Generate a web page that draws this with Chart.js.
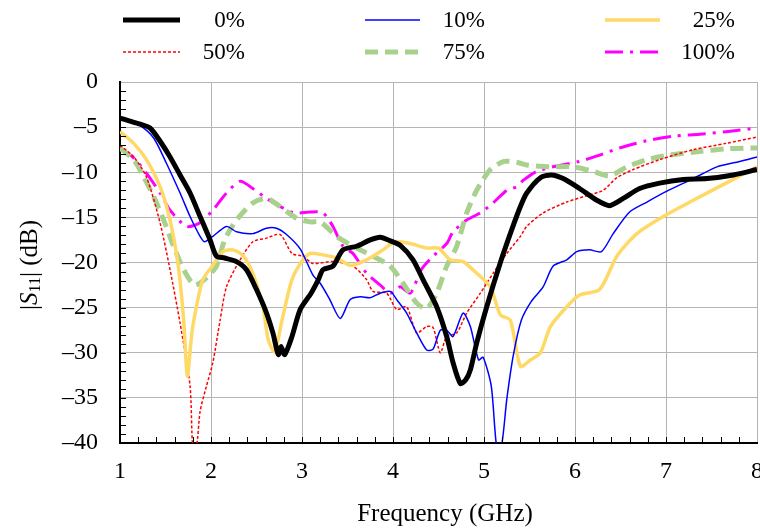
<!DOCTYPE html>
<html>
<head>
<meta charset="utf-8">
<script src="https://cdn.jsdelivr.net/npm/chart.js@4.4.0/dist/chart.umd.min.js"></script>
<style>
  html, body { margin: 0; padding: 0; background: #fff; }
  #wrap { width: 760px; height: 528px; }
</style>
</head>
<body>
<div id="wrap"><canvas id="s11Chart" width="760" height="528"></canvas></div>
<script>
// series labels
const seriesNames = ['0%', '10%', '25%', '50%', '75%', '100%'];

// frequency (GHz) / |S11| (dB)
const freq0 = [1.0, 1.1, 1.2, 1.33, 1.45, 1.55, 1.66, 1.77, 1.88, 1.99, 2.06, 2.15, 2.28, 2.39, 2.5, 2.61, 2.68, 2.74, 2.77, 2.81, 2.89, 2.98, 3.1, 3.18, 3.23, 3.34, 3.45, 3.6, 3.75, 3.86, 3.97, 4.08, 4.22, 4.33, 4.48, 4.59, 4.66, 4.74, 4.8, 4.85, 4.92, 5.03, 5.18, 5.3, 5.4, 5.47, 5.62, 5.74, 5.87, 6.05, 6.24, 6.38, 6.53, 6.71, 6.93, 7.19, 7.45, 7.74, 8.0];
const s11_0 = [-4.0, -4.3, -4.6, -5.1, -6.7, -8.3, -10.3, -12.3, -14.9, -17.5, -19.3, -19.5, -19.9, -20.8, -23.0, -25.6, -27.8, -30.2, -29.3, -30.2, -28.2, -25.2, -23.4, -21.9, -20.8, -20.4, -18.6, -18.2, -17.5, -17.2, -17.6, -18.1, -19.7, -21.9, -24.9, -28.2, -31.1, -33.4, -33.0, -31.9, -28.9, -24.9, -20.0, -16.5, -13.8, -12.3, -10.6, -10.3, -10.7, -11.8, -13.1, -13.7, -12.9, -11.8, -11.2, -10.8, -10.7, -10.3, -9.7];

const freq10 = [1.0, 1.1, 1.22, 1.37, 1.51, 1.66, 1.77, 1.88, 1.93, 2.02, 2.17, 2.28, 2.46, 2.61, 2.72, 2.83, 2.98, 3.12, 3.2, 3.3, 3.42, 3.53, 3.64, 3.75, 3.86, 3.97, 4.04, 4.15, 4.26, 4.37, 4.44, 4.52, 4.59, 4.66, 4.77, 4.85, 4.94, 4.99, 5.08, 5.14, 5.19, 5.25, 5.32, 5.41, 5.52, 5.65, 5.76, 5.91, 6.02, 6.16, 6.29, 6.42, 6.6, 6.79, 7.01, 7.3, 7.56, 7.81, 8.0];
const s11_10 = [-4.0, -4.3, -4.8, -6.2, -9.0, -12.3, -14.9, -17.1, -17.7, -17.1, -16.0, -16.6, -16.8, -16.2, -16.2, -16.9, -18.5, -21.4, -22.3, -24.0, -26.2, -24.1, -23.8, -23.9, -23.4, -23.2, -24.1, -25.6, -27.8, -29.7, -29.6, -27.5, -27.5, -28.2, -25.6, -27.1, -30.8, -30.5, -33.7, -40.5, -40.5, -35.2, -30.4, -26.4, -24.3, -22.7, -20.4, -19.7, -18.8, -18.6, -18.8, -16.8, -14.4, -13.3, -12.1, -10.7, -9.4, -8.8, -8.3];

const freq25 = [1.0, 1.15, 1.29, 1.44, 1.55, 1.64, 1.7, 1.74, 1.79, 1.84, 1.91, 2.02, 2.13, 2.24, 2.35, 2.46, 2.57, 2.63, 2.7, 2.78, 2.89, 3.01, 3.09, 3.2, 3.38, 3.53, 3.71, 3.89, 4.02, 4.19, 4.37, 4.5, 4.63, 4.77, 4.92, 5.07, 5.18, 5.29, 5.4, 5.51, 5.62, 5.73, 5.91, 6.05, 6.27, 6.46, 6.68, 6.97, 7.3, 7.66, 8.0];
const s11_25 = [-5.5, -6.8, -8.6, -11.6, -15.3, -20.4, -26.4, -32.6, -27.8, -24.9, -21.9, -20.3, -18.8, -18.6, -19.2, -21.2, -24.9, -28.6, -29.9, -26.4, -21.9, -19.7, -19.0, -19.1, -19.5, -20.3, -19.7, -18.6, -17.7, -17.9, -18.4, -18.4, -19.7, -19.9, -21.2, -22.7, -25.8, -26.4, -31.5, -30.8, -30.0, -27.1, -24.9, -23.6, -23.0, -19.3, -16.8, -14.9, -13.1, -11.2, -9.4];

const freq50 = [1.0, 1.15, 1.29, 1.44, 1.55, 1.66, 1.77, 1.8, 1.84, 1.88, 1.95, 2.02, 2.1, 2.17, 2.32, 2.46, 2.61, 2.76, 2.89, 3.01, 3.12, 3.34, 3.56, 3.71, 3.78, 3.93, 4.04, 4.15, 4.26, 4.37, 4.44, 4.52, 4.59, 4.7, 4.81, 4.96, 5.1, 5.25, 5.4, 5.47, 5.65, 5.91, 6.16, 6.31, 6.46, 6.64, 6.93, 7.3, 7.66, 8.0];
const s11_50 = [-7.0, -8.3, -10.5, -15.6, -20.8, -26.7, -33.7, -40.5, -40.5, -36.5, -33.7, -31.1, -26.4, -22.7, -19.7, -17.7, -17.3, -16.9, -19.0, -19.3, -20.1, -19.9, -20.4, -21.9, -23.2, -23.4, -25.2, -24.9, -27.8, -27.1, -27.2, -30.0, -28.2, -27.8, -25.6, -23.4, -21.2, -19.0, -17.1, -16.0, -14.5, -13.3, -12.5, -12.0, -10.6, -9.7, -8.6, -7.5, -6.8, -6.1];

const freq75 = [1.0, 1.15, 1.26, 1.37, 1.48, 1.59, 1.7, 1.82, 1.95, 2.06, 2.15, 2.28, 2.46, 2.61, 2.76, 2.94, 3.09, 3.2, 3.38, 3.56, 3.78, 3.97, 4.11, 4.26, 4.37, 4.48, 4.59, 4.7, 4.81, 4.92, 5.07, 5.22, 5.36, 5.47, 5.73, 5.98, 6.2, 6.38, 6.57, 6.79, 7.04, 7.37, 7.66, 8.0];
const s11_75 = [-7.3, -8.6, -10.5, -12.7, -15.3, -18.2, -20.8, -22.5, -21.7, -20.4, -17.5, -15.3, -13.4, -12.9, -13.8, -15.1, -15.5, -15.5, -17.1, -18.2, -19.3, -20.4, -22.3, -24.5, -25.1, -23.4, -20.4, -18.2, -14.5, -12.0, -9.7, -8.8, -8.9, -9.2, -9.4, -9.4, -9.9, -10.4, -9.4, -8.6, -8.1, -7.7, -7.4, -7.3];

const freq100 = [1.0, 1.15, 1.29, 1.44, 1.55, 1.73, 1.88, 2.02, 2.17, 2.32, 2.46, 2.61, 2.76, 2.91, 3.09, 3.23, 3.34, 3.45, 3.56, 3.71, 3.86, 3.97, 4.08, 4.19, 4.31, 4.44, 4.59, 4.66, 4.81, 4.96, 5.1, 5.25, 5.36, 5.43, 5.58, 5.8, 6.05, 6.27, 6.49, 6.79, 7.08, 7.37, 7.66, 8.0];
const s11_100 = [-7.3, -8.4, -10.1, -12.3, -14.2, -16.0, -15.6, -14.2, -12.3, -11.0, -11.8, -12.9, -13.8, -14.5, -14.4, -14.5, -16.0, -18.2, -19.0, -21.2, -22.5, -23.4, -22.7, -23.4, -20.8, -19.3, -17.9, -16.6, -15.3, -14.5, -13.4, -12.0, -11.6, -10.9, -9.9, -9.3, -8.8, -8.1, -7.3, -6.5, -6.0, -5.8, -5.5, -5.1];

// tick labels
const xTicks = [1, 2, 3, 4, 5, 6, 7, 8];
const yTicks = [0, -5, -10, -15, -20, -25, -30, -35, -40];

const FONT = '"Liberation Serif", "Times New Roman", serif';

function toPoints(f, s) {
    return f.map((x, i) => ({ x: x, y: s[i] }));
}

// legend, axis titles and inward ticks
const decorPlugin = {
    id: 'decor',
    afterDraw(chart) {
        const ctx = chart.ctx;
        const area = chart.chartArea;
        const xs = chart.scales.x;
        const ys = chart.scales.y;
        ctx.save();

        // inward ticks
        ctx.strokeStyle = '#000';
        ctx.lineWidth = 1;
        ctx.beginPath();
        for (let i = 1; i < 35; i++) {
            const px = Math.round(xs.getPixelForValue(1 + i * 0.2)) + 0.5;
            ctx.moveTo(px, area.bottom);
            ctx.lineTo(px, area.bottom - 6);
        }
        for (let d = -39; d < 0; d++) {
            const py = Math.round(ys.getPixelForValue(d)) + 0.5;
            ctx.moveTo(area.left, py);
            ctx.lineTo(area.left + 6, py);
        }
        ctx.stroke();

        // legend: 3 columns x 2 rows
        const cols = [[123, 180, 245], [365, 420, 485], [605, 660, 735]];
        const rows = [20, 52];
        ctx.font = '23px ' + FONT;
        ctx.textBaseline = 'middle';
        ctx.textAlign = 'right';
        chart.data.datasets.forEach((ds, i) => {
            const c = cols[i % 3];
            const y = rows[Math.floor(i / 3)];
            ctx.strokeStyle = ds.borderColor;
            ctx.lineWidth = ds.borderWidth;
            ctx.setLineDash(ds.borderDash || []);
            ctx.lineCap = 'butt';
            ctx.beginPath();
            ctx.moveTo(c[0], y);
            ctx.lineTo(c[1], y);
            ctx.stroke();
            ctx.setLineDash([]);
            ctx.fillStyle = '#000';
            ctx.fillText(ds.label, c[2], y + 1);
        });

        // x axis title
        ctx.textAlign = 'center';
        ctx.font = '25px ' + FONT;
        ctx.fillText('Frequency (GHz)', 445, 514);

        // y axis title |S11| (dB)
        const parts = [
            { t: '|', f: '25px ' + FONT, dy: 0 },
            { t: 'S', f: 'italic 25px ' + FONT, dy: 0 },
            { t: '11', f: '16px ' + FONT, dy: 6 },
            { t: '| (dB)', f: '25px ' + FONT, dy: 0 }
        ];
        let total = 0;
        parts.forEach(p => { ctx.font = p.f; p.w = ctx.measureText(p.t).width; total += p.w; });
        ctx.translate(30, 265);
        ctx.rotate(-Math.PI / 2);
        ctx.textAlign = 'left';
        let x = -total / 2;
        parts.forEach(p => {
            ctx.font = p.f;
            ctx.fillText(p.t, x, p.dy);
            x += p.w;
        });
        ctx.restore();
    }
};

const ctx = document.getElementById('s11Chart').getContext('2d');
const s11Chart = new Chart(ctx, {
    type: 'line',
    data: {
        datasets: [{
            label: seriesNames[0],
            data: toPoints(freq0, s11_0),
            borderColor: '#000000',
            borderWidth: 5
        }, {
            label: seriesNames[1],
            data: toPoints(freq10, s11_10),
            borderColor: '#0000ff',
            borderWidth: 1.5
        }, {
            label: seriesNames[2],
            data: toPoints(freq25, s11_25),
            borderColor: '#ffd966',
            borderWidth: 3.5
        }, {
            label: seriesNames[3],
            data: toPoints(freq50, s11_50),
            borderColor: '#ff0000',
            borderWidth: 1.5,
            borderDash: [3, 2]
        }, {
            label: seriesNames[4],
            data: toPoints(freq75, s11_75),
            borderColor: '#a9d18e',
            borderWidth: 5,
            borderDash: [13, 7]
        }, {
            label: seriesNames[5],
            data: toPoints(freq100, s11_100),
            borderColor: '#ff00ff',
            borderWidth: 3,
            borderDash: [18, 7, 3, 7]
        }]
    },
    options: {
        responsive: false,
        animation: false,
        devicePixelRatio: 1,
        layout: { padding: { top: 82, right: 3, left: 0, bottom: 0 } },
        elements: {
            point: { radius: 0 },
            line: { tension: 0.25, fill: false, borderCapStyle: 'butt' }
        },
        plugins: {
            legend: { display: false },
            tooltip: { enabled: false }
        },
        scales: {
            x: {
                type: 'linear',
                min: 1,
                max: 8,
                afterFit: s => { s.height = 85; s.paddingLeft = 0; s.paddingRight = 0; },
                afterBuildTicks: s => { s.ticks = xTicks.map(v => ({ value: v })); },
                grid: { color: '#b4b4b4', drawTicks: false },
                border: { color: '#000', width: 2 },
                ticks: {
                    padding: 14,
                    color: '#000',
                    font: { family: FONT, size: 24 }
                }
            },
            y: {
                min: -40,
                max: 0,
                afterFit: s => { s.width = 120; s.paddingTop = 0; s.paddingBottom = 0; },
                afterBuildTicks: s => { s.ticks = yTicks.map(v => ({ value: v })); },
                grid: { color: '#b4b4b4', drawTicks: false },
                border: { color: '#000', width: 2 },
                ticks: {
                    padding: 22,
                    color: '#000',
                    font: { family: FONT, size: 24 },
                    callback: v => (v < 0 ? '\u2013' + Math.abs(v) : String(v))
                }
            }
        }
    },
    plugins: [decorPlugin]
});
</script>
</body>
</html>
